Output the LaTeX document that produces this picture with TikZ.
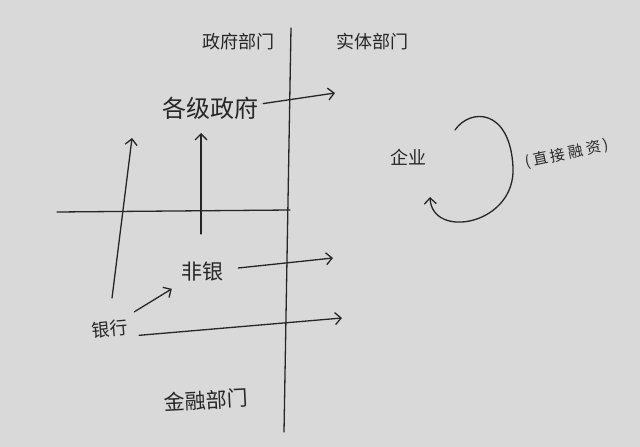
\documentclass[tikz,border=0pt]{standalone}
\usepackage{fontspec}
\newfontfamily\cjk{Noto Sans CJK SC}
\usetikzlibrary{arrows.meta}
\definecolor{paper}{HTML}{D9D9D9}
\definecolor{ink}{HTML}{262626}
\newcommand{\gp}{\hspace{3pt}}
\begin{document}
\begin{tikzpicture}[x=1pt,y=-1pt,
  pen/.style={line width=1.3pt, draw=ink, line cap=round},
  arr/.style={pen, -{Straight Barb[length=6pt,width=12pt]}},
  lbl/.style={text=ink, inner sep=1pt},
  huge/.style={lbl, font=\cjk\fontsize{24}{24}\selectfont},
  big/.style={lbl, font=\cjk\fontsize{21}{21}\selectfont},
  mid/.style={lbl, font=\cjk\fontsize{18}{18}\selectfont},
  small/.style={lbl, font=\cjk\fontsize{15}{15}\selectfont}]
\fill[paper] (0,0) rectangle (640,447);
\useasboundingbox (0,0) rectangle (640,447);
% axes
\coordinate (vt) at (291,28);
\coordinate (vb) at (284,432);
\coordinate (hl) at (57,212);
\coordinate (hr) at (290,210);
\draw[pen] (vt) -- (vb);
\draw[pen] (hl) -- (hr);
% labels
\node[mid] (gov) at (238,42) {政府部门};
\node[mid] (real) at (372,42) {实体部门};
\node[huge] (gl) at (210,108) {各级政府};
\node[big, rotate=3] (fin) at (206,400) {金融部门};
\node[big] (nb) at (202,272) {非银};
\node[mid, rotate=5] (bank) at (110,329) {银行};
\node[mid] (ent) at (408,157) {企业};
\node[small, rotate=12] (direct) at (567,154) {(\gp 直\gp 接\gp 融\gp 资\gp )};
% arrows
\coordinate (glE) at (335,93);
\coordinate (nbE) at (333,258);
\coordinate (bkE) at (342,318);
\coordinate (upA) at (132,138);
\coordinate (upAs) at (112,298);
\coordinate (upB) at (201,133);
\coordinate (upBs) at (201,234);
\draw[arr] ([shift={(4,8)}]gl.north east) -- (glE);
\draw[arr] (upAs) -- (upA);
\draw[arr] (upBs) -- (upB);
\draw[arr] (nb.east) ++(14,-4) -- (nbE);
\draw[arr] ([shift={(6,-6)}]bank.north east) -- ([shift={(-8,6)}]nb.south west);
\draw[arr] ([shift={(10,8)}]bank.east) -- (bkE);
% cycle
\coordinate (cs) at (455,130);
\coordinate (ce) at (430,197);
\draw[arr] (cs) .. controls (470,108) and (510,108) .. (513,167)
  .. controls (516,225) and (432,240) .. (ce);
\end{tikzpicture}
\end{document}
